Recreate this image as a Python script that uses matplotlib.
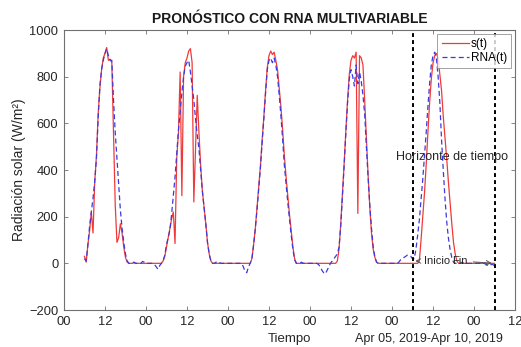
import numpy as np
import pandas as pd
import matplotlib
matplotlib.use("Agg")
import matplotlib.pyplot as plt
import matplotlib.dates as mdates

plt.rcParams['font.family'] = ['Liberation Sans', 'DejaVu Sans']

# half-hourly samples, Apr 05 06:00 -> Apr 10 06:00
t_start = '2019-04-05 06:00'
t_end = '2019-04-10 06:00'

# measured irradiance s(t), one row per day (06:00 .. 05:30 next day)
s_t = [
    # Apr 05
    30, 5, 80, 140, 220, 130, 350, 460, 640, 750, 830, 880,
    900, 925, 870, 875, 860, 550, 250, 90, 110, 170, 130, 70,
    25, 5, 0, 0, 0, 2, 0, 0, 0, 0, 0, 0,
    0, 0, 0, 0, 0, 0, 0, 0, 0, 0, 10, 30,
    # Apr 06
    70, 110, 150, 190, 220, 85, 450, 560, 820, 290, 800, 860,
    880, 910, 920, 860, 263, 490, 720, 560, 420, 310, 240, 170,
    90, 40, 10, 0, 0, 0, 0, 0, 0, 0, 0, 0,
    0, 0, 0, 0, 0, 0, 0, 0, 0, 0, 0, 0,
    # Apr 07
    0, 0, 20, 80, 150, 240, 330, 420, 530, 630, 740, 840,
    890, 910, 895, 905, 870, 830, 750, 670, 570, 460, 370, 290,
    210, 140, 70, 20, 0, 0, 0, 0, 0, 0, 0, 0,
    0, 0, 0, 0, 0, 0, 0, 0, 0, 0, 0, 0,
    # Apr 08
    0, 0, 0, 0, 10, 60, 170, 300, 430, 570, 700, 810,
    870, 890, 880, 905, 214, 890, 880, 850, 700, 540, 380, 240,
    130, 60, 25, 5, 0, 0, 0, 0, 0, 0, 0, 0,
    0, 0, 0, 0, 0, 0, 0, 0, 0, 0, 0, 0,
    # Apr 09
    0, 0, 0, 0, 10, 100, 200, 300, 420, 560, 686, 790,
    858, 890, 900, 880, 810, 740, 630, 540, 450, 350, 260, 170,
    90, 40, 10, 0, 0, 0, 0, 0, 0, 0, 0, 0,
    0, 0, 0, 0, 0, 0, 0, 0, 0, 0, 0, 0,
    0,
]

# network output RNA(t)
rna_t = [
    # Apr 05
    20, 10, 80, 160, 220, 280, 350, 450, 620, 760, 830, 870,
    900, 920, 890, 870, 870, 700, 560, 450, 340, 230, 150, 90,
    40, 10, 0, 0, 3, 5, 0, 0, 0, 0, 8, 5,
    0, 0, 0, 0, 0, -5, -15, -25, -10, 0, 10, 35,
    # Apr 06
    80, 110, 142, 210, 290, 370, 470, 570, 650, 730, 800, 845,
    860, 870, 820, 760, 700, 620, 550, 490, 400, 310, 240, 170,
    90, 40, 10, 0, 0, 5, 8, 3, 0, 0, 0, 0,
    0, 0, 0, 0, 0, 0, 0, 0, 0, -15, -35, -40,
    # Apr 07
    -15, 0, 20, 80, 150, 230, 320, 410, 520, 620, 730, 830,
    870, 880, 860, 880, 850, 800, 720, 630, 530, 420, 340, 260,
    190, 120, 60, 15, 0, 0, 0, 5, 0, 0, 0, 0,
    0, 0, 0, 0, 0, -5, -15, -30, -40, -45, -30, -15,
    # Apr 08
    0, 10, 20, 30, 40, 70, 160, 290, 420, 560, 690, 790,
    830, 800, 760, 850, 770, 820, 780, 720, 640, 500, 370, 250,
    150, 70, 25, 5, 0, 0, 0, 0, 0, 0, 0, 0,
    0, 0, 0, 0, 5, 15, 20, 25, 30, 35, 35, 30,
    # Apr 09
    20, 20, 60, 120, 185, 270, 360, 460, 560, 670, 770, 850,
    890, 905, 880, 800, 690, 530, 400, 280, 180, 110, 60, 25,
    5, 0, 0, 0, 0, 5, 0, 0, 0, 0, 0, 0,
    0, 0, 0, 0, 0, 0, 0, -5, -10, -10, -5, -5,
    -10,
]

horizon = ['2019-04-09 06:00', '2019-04-10 06:00']
yticks = [-200, 0, 200, 400, 600, 800, 1000]

times = pd.date_range(t_start, t_end, freq='30min')
tnum = mdates.date2num(times.to_pydatetime())

fig = plt.figure(figsize=(5.21, 3.47), dpi=100)
ax = fig.add_axes([0.1228, 0.1066, 0.8657, 0.8069])

ax.plot(tnum, s_t, color='#f03a3a', lw=0.9, label='s(t)')
ax.plot(tnum, rna_t, color='#3a3ae0', lw=0.9, ls=(0, (4, 2.5)), label='RNA(t)')

h0 = mdates.date2num(pd.Timestamp(horizon[0]))
h1 = mdates.date2num(pd.Timestamp(horizon[1]))
for h in (h0, h1):
    ax.axvline(h, color='black', lw=1.4, ls=(0, (2, 1.6)))

x0 = mdates.date2num(pd.Timestamp('2019-04-05 00:00'))
x1 = mdates.date2num(pd.Timestamp('2019-04-10 12:00'))
ax.set_xlim(x0, x1)
ax.set_ylim(-200, 1000)
ax.set_xticks(np.arange(x0, x1 + 0.01, 0.5))
ax.xaxis.set_major_formatter(mdates.DateFormatter('%H'))
ax.set_yticks(yticks)

ax.tick_params(direction='in', length=3, width=0.6, top=True, right=True,
               labelsize=9.3, colors='#707070', labelcolor='#262626', pad=4)
for sp in ax.spines.values():
    sp.set_color('#707070')
    sp.set_linewidth(0.8)

ax.set_title('PRONÓSTICO CON RNA MULTIVARIABLE', fontsize=10,
             fontweight='bold', color='#1a1a1a', pad=5)
ax.set_ylabel('Radiación solar (W/m²)', fontsize=10, color='#262626', labelpad=2)
ax.set_xlabel('Tiempo', fontsize=9.5, color='#262626', labelpad=4)
fig.text(503 / 521, 1 - 339 / 347, 'Apr 05, 2019-Apr 10, 2019',
         ha='right', va='center', fontsize=9, color='#262626')

mid = (h0 + h1) / 2 - 0.02
ax.text(mid, 455, 'Horizonte de tiempo', ha='center', va='center',
        fontsize=9, color='#262626')

ax.annotate('Inicio', xy=(h0, 10), xytext=(h0 + 7.3 / 24, 10),
            ha='center', va='center', fontsize=8, color='#262626',
            arrowprops=dict(arrowstyle='->', color='#555555', lw=0.7))
ax.annotate('Fin', xy=(h1, 0), xytext=(h0 + 13.9 / 24, 10),
            ha='center', va='center', fontsize=8, color='#262626',
            arrowprops=dict(arrowstyle='->', color='#555555', lw=0.7))

leg = ax.legend(loc='upper right', fontsize=8.5, handlelength=2.3,
                frameon=True, fancybox=False, borderpad=0.35,
                labelspacing=0.2, handletextpad=0.2, borderaxespad=0.3)
leg.get_frame().set_edgecolor('#8a8a8a')
leg.get_frame().set_linewidth(0.7)

fig.savefig('out.png', dpi=100)
